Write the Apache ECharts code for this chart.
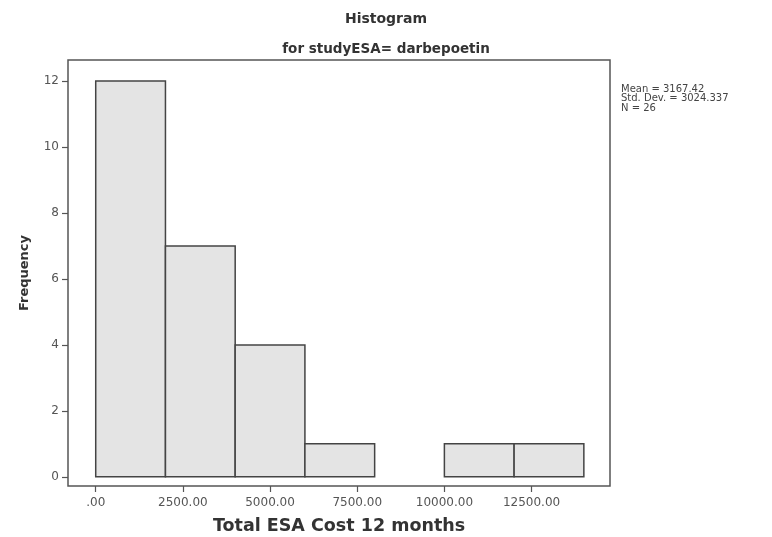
<!DOCTYPE html>
<html><head><meta charset="utf-8">
<script src="https://cdn.jsdelivr.net/npm/echarts@6/dist/echarts.min.js"></script>
<style>html,body{margin:0;padding:0;background:#fff}#c{width:772px;height:537px}</style>
</head><body><div id="c"></div>
<script>
const binStarts = [0, 2000, 4000, 6000, 8000, 10000, 12000];
const binWidth = 2000;
const frequencies = [12, 7, 4, 1, 0, 1, 1];
const xTickValues = [0, 2500, 5000, 7500, 10000, 12500];
const yTickValues = [0, 2, 4, 6, 8, 10, 12];
const statsLines = ['Mean = 3167.42', 'Std. Dev. = 3024.337', 'N = 26'];

const FONT = '"DejaVu Sans", sans-serif';
const chart = echarts.init(document.getElementById('c'), null, {renderer: 'canvas'});
const data = binStarts.map((s, i) => [s, s + binWidth, frequencies[i]]);

chart.setOption({
  animation: false,
  backgroundColor: '#fff',
  title: [
    {text: 'Histogram', left: 'center', top: 7,
     textStyle: {fontFamily: FONT, fontSize: 14, fontWeight: 'bold', color: '#333'}},
    {text: 'for studyESA= darbepoetin', left: 'center', top: 37,
     textStyle: {fontFamily: FONT, fontSize: 13.5, fontWeight: 'bold', color: '#333'}}
  ],
  grid: {left: 68, right: 162, top: 60, bottom: 51, show: true, containLabel: false,
         outerBoundsMode: 'none',
         borderColor: '#555', borderWidth: 1.5, backgroundColor: 'transparent'},
  xAxis: {
    type: 'value', min: -795, max: 14750,
    name: 'Total ESA Cost 12 months', nameLocation: 'middle', nameGap: 31,
    nameTextStyle: {fontFamily: FONT, fontSize: 17.5, fontWeight: 'bold', color: '#333'},
    axisLine: {show: false, onZero: false},
    splitLine: {show: false},
    axisTick: {show: true, length: 6, customValues: xTickValues, lineStyle: {color: '#555', width: 1.2}},
    axisLabel: {customValues: xTickValues, margin: 11, fontFamily: FONT, fontSize: 12, color: '#555',
      formatter: v => v === 0 ? '.00' : v.toFixed(2)}
  },
  yAxis: {
    type: 'value', min: -0.28, max: 12.64,
    name: 'Frequency', nameLocation: 'middle', nameGap: 37,
    nameTextStyle: {fontFamily: FONT, fontSize: 13, fontWeight: 'bold', color: '#333'},
    axisLine: {show: false, onZero: false},
    splitLine: {show: false},
    axisTick: {show: true, length: 6, customValues: yTickValues, lineStyle: {color: '#555', width: 1.2}},
    axisLabel: {customValues: yTickValues, margin: 9, fontFamily: FONT, fontSize: 12, color: '#555'}
  },
  series: [{
    type: 'custom',
    data: data,
    renderItem: function (params, api) {
      if (api.value(2) === 0) return null;
      const p0 = api.coord([api.value(0), 0]);
      const p1 = api.coord([api.value(1), api.value(2)]);
      return {
        type: 'rect',
        shape: {x: p0[0], y: p1[1], width: p1[0] - p0[0], height: p0[1] - p1[1]},
        style: {fill: '#e4e4e4', stroke: '#444', lineWidth: 1.5}
      };
    }
  }],
  graphic: statsLines.map((t, i) => ({
    type: 'text', x: 621, y: 89 + i * 9.5,
    style: {text: t, fontFamily: FONT, fontSize: 10, fill: '#444', verticalAlign: 'middle'}
  }))
});
</script></body></html>
